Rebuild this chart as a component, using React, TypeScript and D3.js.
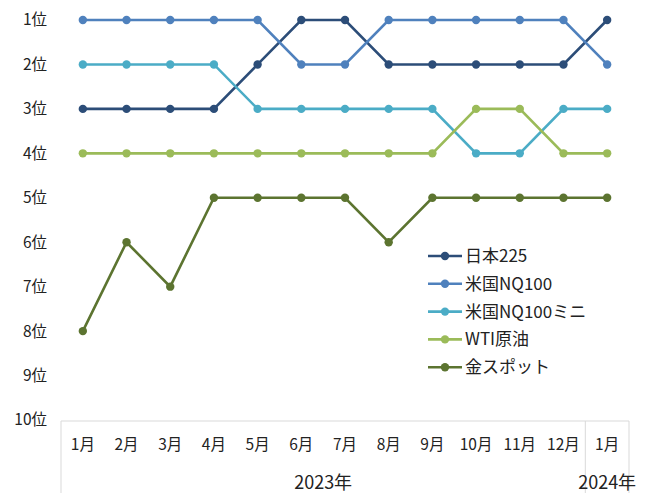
import React, { useEffect, useRef } from 'react';
import * as d3 from 'd3';

const months = ['1月', '2月', '3月', '4月', '5月', '6月', '7月', '8月', '9月', '10月', '11月', '12月', '1月'];
const years = [
  { label: '2023年', span: 12 },
  { label: '2024年', span: 1 },
];
const rankLabels = ['1位', '2位', '3位', '4位', '5位', '6位', '7位', '8位', '9位', '10位'];

const nikkei = [3, 3, 3, 3, 2, 1, 1, 2, 2, 2, 2, 2, 1];
const nq100 = [1, 1, 1, 1, 1, 2, 2, 1, 1, 1, 1, 1, 2];
const nq100mini = [2, 2, 2, 2, 3, 3, 3, 3, 3, 4, 4, 3, 3];
const wti = [4, 4, 4, 4, 4, 4, 4, 4, 4, 3, 3, 4, 4];
const gold = [8, 6, 7, 5, 5, 5, 5, 6, 5, 5, 5, 5, 5];

const seriesNames = ['日本225', '米国NQ100', '米国NQ100ミニ', 'WTI原油', '金スポット'];
const seriesColors = ['#2c4d78', '#4f81bd', '#4bacc6', '#9bbb59', '#5c7430'];

export default function App() {
  const ref = useRef<SVGSVGElement>(null);

  useEffect(() => {
    const svg = d3.select(ref.current);
    svg.selectAll('*').remove();
    const font = '"Noto Sans CJK JP", "Noto Sans", sans-serif';

    const left = 61, right = 629, top = 20, bottom = 420;
    const idx = months.map((_, i) => i);
    const x = d3.scaleBand<number>().domain(idx).range([left, right]);
    const y = d3.scaleLinear().domain([1, 10]).range([top, bottom]);

    const data = [nikkei, nq100, nq100mini, wti, gold];

    // rank labels
    svg.append('g')
      .selectAll('text')
      .data(rankLabels)
      .join('text')
      .attr('x', 47)
      .attr('y', (_, i) => y(i + 1))
      .attr('dy', '0.35em')
      .attr('text-anchor', 'end')
      .attr('font-family', font)
      .attr('font-size', 15.5)
      .attr('fill', '#222')
      .text((d) => d);

    // category axis box
    const axisG = svg.append('g').attr('stroke', '#d9d9d9').attr('fill', 'none');
    const axTop = y(10) + 1;
    axisG.append('line').attr('x1', left).attr('x2', right).attr('y1', axTop).attr('y2', axTop);
    let cum = 0;
    const bounds = [left];
    years.forEach((yr) => {
      cum += yr.span;
      bounds.push(x(cum - 1)! + x.bandwidth());
    });
    bounds.forEach((b) => {
      axisG.append('line').attr('x1', b).attr('x2', b).attr('y1', axTop).attr('y2', 493);
    });

    svg.append('g')
      .selectAll('text')
      .data(months)
      .join('text')
      .attr('x', (_, i) => x(i)! + x.bandwidth() / 2)
      .attr('y', 445)
      .attr('dy', '0.35em')
      .attr('text-anchor', 'middle')
      .attr('font-family', font)
      .attr('font-size', 15.5)
      .attr('fill', '#222')
      .text((d) => d);

    years.forEach((yr, k) => {
      const x0 = bounds[k];
      const x1 = bounds[k + 1];
      svg.append('text')
        .attr('x', (x0 + x1) / 2)
        .attr('y', 483)
        .attr('dy', '0.35em')
        .attr('text-anchor', 'middle')
        .attr('font-family', font)
        .attr('font-size', 18)
        .attr('fill', '#222')
        .text(yr.label);
    });

    const line = d3.line<number>()
      .x((_, i) => x(i)! + x.bandwidth() / 2)
      .y((d) => y(d));

    data.forEach((s, k) => {
      const g = svg.append('g');
      g.append('path')
        .attr('d', line(s))
        .attr('fill', 'none')
        .attr('stroke', seriesColors[k])
        .attr('stroke-width', 2.6);
      g.selectAll('circle')
        .data(s)
        .join('circle')
        .attr('cx', (_, i) => x(i)! + x.bandwidth() / 2)
        .attr('cy', (d) => y(d))
        .attr('r', 4.2)
        .attr('fill', seriesColors[k]);
    });

    // legend
    const leg = svg.append('g');
    seriesNames.forEach((name, k) => {
      const ly = 256 + k * 27.8;
      leg.append('line')
        .attr('x1', 428).attr('x2', 462).attr('y1', ly).attr('y2', ly)
        .attr('stroke', seriesColors[k]).attr('stroke-width', 2.6);
      leg.append('circle').attr('cx', 445).attr('cy', ly).attr('r', 4.2).attr('fill', seriesColors[k]);
      leg.append('text')
        .attr('x', 465)
        .attr('y', ly)
        .attr('dy', '0.35em')
        .attr('font-family', font)
        .attr('font-size', 17)
        .attr('fill', '#222')
        .text(name);
    });
  }, []);

  return (
    <svg ref={ref} width={646} height={493} style={{ position: 'absolute', left: 0, top: 0, background: '#fff' }} />
  );
}
